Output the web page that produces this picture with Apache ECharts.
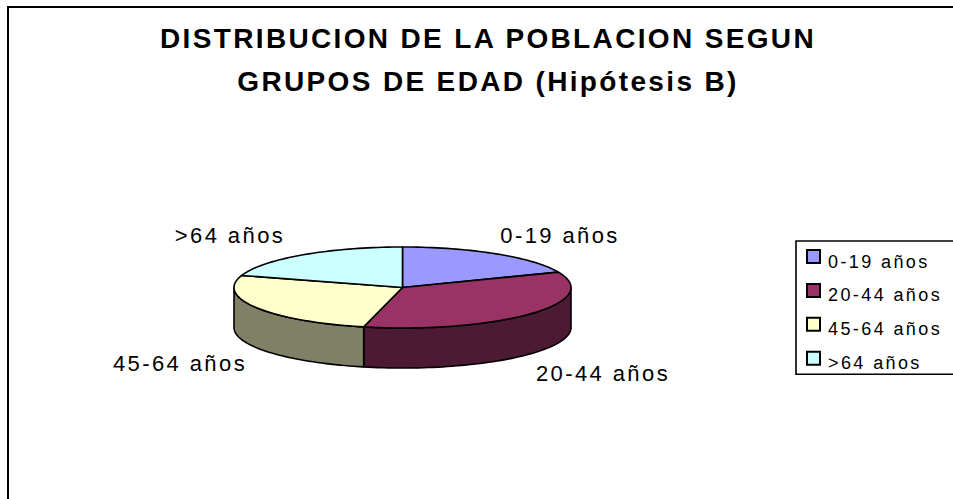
<!DOCTYPE html>
<html>
<head>
<meta charset="utf-8">
<script src="https://cdn.jsdelivr.net/npm/echarts@6/dist/echarts.min.js"></script>
<style>
  html, body { margin: 0; background: #fff; }
  #chart { width: 953px; height: 499px; }
  /* the original has wide tracking, only svg text can do that */
  #chart text { letter-spacing: 2.4px; }
  #chart text[style*="bold"] { letter-spacing: 2.35px; }
</style>
</head>
<body>
<div id="chart"></div>
<script>
const categories = ["0-19 años", "20-44 años", "45-64 años", ">64 años"];
const values = [18.8, 34.9, 26.1, 20.2];
const topColors = ["#9999ff", "#993366", "#ffffcc", "#ccffff"];
const wallColors = ["#4d4d80", "#4d1a33", "#808066", "#668080"];
const titleLines = ["DISTRIBUCION DE LA POBLACION SEGUN", "GRUPOS DE EDAD (Hipótesis B)"];

const chart = echarts.init(document.getElementById("chart"), null, { renderer: "svg" });

// tilted pie, ellipse in pixels
const cx = 402.5, cy = 287.5, rx = 168.5, ry = 40.5, depth = 40;
const total = values.reduce((a, b) => a + b, 0);
const labelPos = [[560, 235], [603, 373], [180, 363], [230, 235]];

function toAngle(v) {
  return echarts.number.linearMap(v, [0, total], [0, Math.PI * 2]);
}

function arcPoints(a, b, dy) {
  const pts = [];
  const n = Math.max(2, Math.ceil(Math.abs(b - a) / 0.03));
  for (let i = 0; i <= n; i++) {
    const t = a + (b - a) * i / n;
    pts.push([cx + rx * Math.sin(t), cy - ry * Math.cos(t) + dy]);
  }
  return pts;
}

function renderSlice(index) {
  return function (params, api) {
    const a = toAngle(api.value(0));
    const b = toAngle(api.value(1));
    const children = [];
    // only the front half of the side is visible
    const wa = Math.max(a, Math.PI / 2);
    const wb = Math.min(b, Math.PI * 1.5);
    if (wb > wa) {
      children.push({
        type: "polygon",
        shape: { points: arcPoints(wa, wb, 0).concat(arcPoints(wb, wa, depth)) },
        style: { fill: wallColors[index], stroke: "#000", lineWidth: 1.6, lineJoin: "round" }
      });
    }
    children.push({
      type: "polygon",
      shape: { points: [[cx, cy]].concat(arcPoints(a, b, 0)) },
      style: { fill: topColors[index], stroke: "#000", lineWidth: 1.6, lineJoin: "round" }
    });
    children.push({
      type: "text",
      style: {
        text: categories[index],
        x: labelPos[index][0],
        y: labelPos[index][1],
        fill: "#000",
        font: "22px 'Liberation Sans', Arial, sans-serif",
        align: "center",
        verticalAlign: "middle"
      }
    });
    return { type: "group", children: children };
  };
}

let running = 0;
const series = categories.map(function (name, i) {
  const start = running;
  running += values[i];
  return {
    name: name,
    type: "custom",
    coordinateSystem: "none",
    silent: true,
    animation: false,
    itemStyle: { color: topColors[i], borderColor: "#000", borderWidth: 1.4 },
    renderItem: renderSlice(i),
    data: [[start, running]]
  };
});

chart.setOption({
  animation: false,
  backgroundColor: "#fff",
  title: {
    text: titleLines.join("\n"),
    left: 483,
    top: 12,
    textAlign: "center",
    textStyle: {
      fontFamily: "'Liberation Sans', Arial, sans-serif",
      fontSize: 28,
      fontWeight: "bold",
      lineHeight: 43,
      color: "#000"
    }
  },
  legend: {
    left: 796,
    top: 241,
    orient: "vertical",
    data: categories,
    icon: "rect",
    itemWidth: 13,
    itemHeight: 13,
    itemGap: 12.4,
    padding: [8, 60, 2, 10],
    borderColor: "#000",
    borderWidth: 1.6,
    backgroundColor: "#fff",
    // text sits a little below its swatch in the original
    formatter: function (name) { return "{t|" + name + "}"; },
    textStyle: {
      rich: {
        t: {
          fontFamily: "'Liberation Sans', Arial, sans-serif",
          fontSize: 18,
          color: "#000",
          padding: [10, 0, 0, 3]
        }
      }
    }
  },
  graphic: [{
    // outer frame, runs off the bottom and right of the picture
    type: "rect",
    shape: { x: 8, y: 7, width: 960, height: 510 },
    style: { fill: "none", stroke: "#000", lineWidth: 2 },
    silent: true,
    z: 10
  }],
  series: series
});
</script>
</body>
</html>
